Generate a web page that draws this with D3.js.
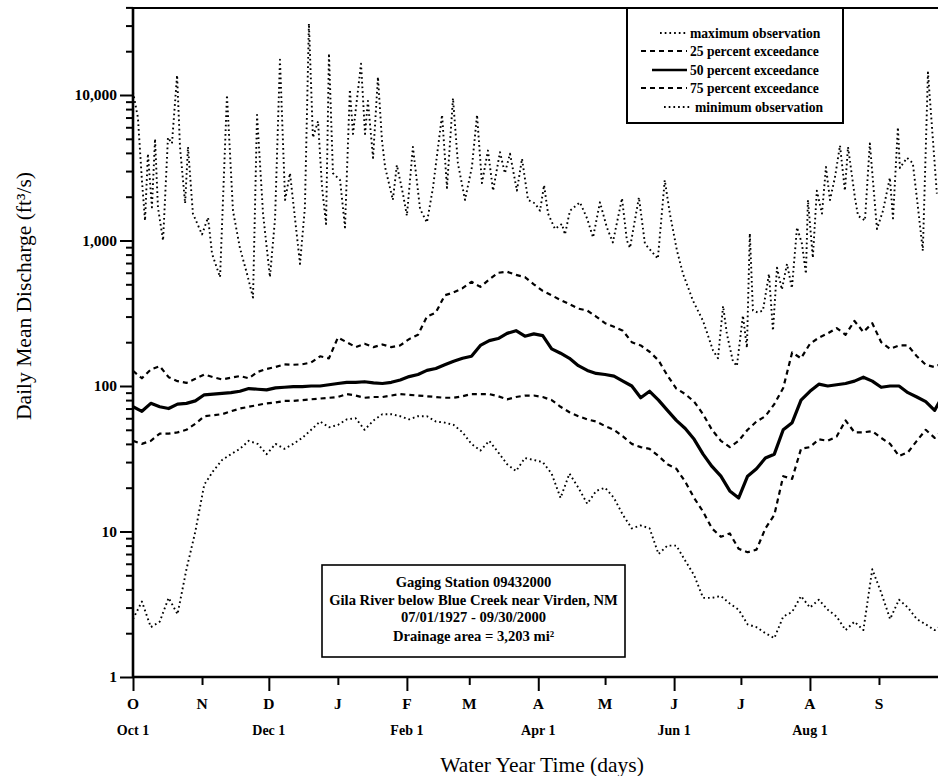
<!DOCTYPE html>
<html><head><meta charset="utf-8">
<script src="https://cdn.jsdelivr.net/npm/d3@7"></script>
<style>
body{margin:0;background:#fff;}
svg{display:block;}
text{font-family:"Liberation Serif","Times New Roman",serif;fill:#000;}
</style></head><body>
<svg id="chart" width="938" height="776"></svg>
<script>
// ---------- data ----------
const monthLetters = ["O","N","D","J","F","M","A","M","J","J","A","S"];
const monthStartDays = [0,31,61,92,123,151,182,212,243,273,304,335];
const majorMonthDays = [0,61,123,182,243,304];
const dateLabels = ["Oct 1","Dec 1","Feb 1","Apr 1","Jun 1","Aug 1"];
const yMajorTicks = [1,10,100,1000,10000];
const gridDays = d3.range(0, 365, 4);

const p25 = [127,113,130,137,115,108,105,112,120,115,
  111,114,117,113,125,131,135,141,140,141,
  145,160,155,215,200,185,195,185,193,185,
  190,210,225,300,320,420,440,470,520,480,
  540,600,610,580,560,500,450,420,390,365,
  340,330,300,270,255,240,200,190,172,150,
  118,96,88,78,64,50,42,38,42,50,
  57,62,75,97,170,155,195,215,230,250,
  225,280,235,270,200,180,190,190,160,140,
  135,145];
const p50 = [72,67,76,72,70,75,76,79,87,88,
  89,90,92,96,95,94,97,98,99,99,
  100,100,102,104,106,106,107,105,104,106,
  110,116,120,128,132,140,148,155,160,190,
  205,212,230,240,220,228,222,180,168,155,
  138,128,122,120,117,108,100,83,92,80,
  68,58,51,43,34,28,24,19,17,24,
  27,32,34,50,56,80,92,103,100,102,
  104,108,115,108,98,100,100,90,84,78,
  68,88];
const p75 = [42,40,42,47,47,48,50,55,62,63,
  64,67,70,72,74,76,77,79,79,80,
  81,82,83,84,88,86,83,84,84,86,
  88,87,86,85,84,83,83,85,88,88,
  88,85,81,84,86,86,84,80,72,66,
  62,59,57,53,50,45,40,38,37,33,
  29,27,22,17,13.7,10.5,9.2,9.7,7.6,7.2,
  7.5,10.5,13,24,23,37,38,43,42,45,
  58,48,48,49,44,40,33,35,42,50,
  44,50];
const minObs = [2.5,3.3,2.2,2.4,3.5,2.7,5.5,10,21,26,
  31,34,37,42,40,34,40,37,40,44,
  50,57,52,54,59,60,50,58,64,64,
  62,59,62,62,57,56,54,48,40,36,
  42,35,29,26,32,31,30,25,17,25,
  20,15.5,19,20,17,13,10.5,11,10.5,7,
  8,8,6.3,5,3.5,3.5,3.6,3.2,2.9,2.3,
  2.2,2.0,1.85,2.6,2.8,3.6,3.0,3.4,2.9,2.6,
  2.1,2.4,2.1,5.5,3.8,2.5,3.4,3.0,2.5,2.3,
  2.1,2.3];
// maximum observation: [day of water year, discharge]
const maxObs = [[0,10500],[2.2,7000],[4,2600],[5.4,1370],[6.7,3950],[8.5,1690],[9.9,5000],[11.2,1690],[13.5,1000],[15.7,5100],
  [17.5,4650],[19.8,13700],[21.1,4400],[23.4,1800],[24.7,4400],[26.9,1530],[31,1100],[33.7,1440],[35.5,810],[39.1,560],
  [42.2,10000],[44.9,1600],[48,890],[51.2,590],[53.9,405],[55.7,7300],[58.4,1530],[61.5,560],[63.8,1420],[66,17500],
  [68.3,1900],[70.5,2900],[72.7,1440],[75,690],[77.2,1690],[79,31000],[80.8,5100],[83.1,6600],[84.9,2300],[86.7,1300],
  [88,19300],[89.8,2900],[93,2600],[95.2,1230],[97.4,10900],[98.8,5400],[102.4,16400],[104.2,5400],[105.5,9100],[107.8,3700],
  [110,13300],[111.8,4900],[113.2,3200],[116.7,1900],[118.5,3300],[121.2,2100],[123,1480],[125.7,4400],[128.9,1650],[132,1330],
  [134.7,2300],[138.8,7300],[141,2300],[143.7,9500],[145.9,3400],[149.1,1900],[152.2,3200],[154.5,7300],[156.7,2480],[159.4,4150],
  [161.7,2200],[164.8,4050],[167,2900],[169.3,3950],[172.4,2200],[174.7,3650],[177.4,1900],[180.5,1800],[182.8,1600],[184.6,2400],
  [186.4,1530],[189.5,1200],[192.6,1300],[194,1100],[196.2,1600],[200.7,1830],[203.9,1420],[206.6,1050],[209.7,1830],[212.8,1230],
  [215.5,970],[219.6,1950],[221.8,1000],[223.2,890],[227.2,1980],[229.9,950],[235.7,750],[238.8,2600],[241.1,1530],[244.3,850],
  [247,590],[251.5,385],[256,280],[260.5,175],[262.7,155],[265,355],[266.7,228],[269.4,148],[271.2,137],[273.9,305],
  [275.7,183],[277,1120],[278.4,330],[280.6,320],[282.9,330],[285.6,590],[287.4,240],[289.2,650],[291.4,460],[293.7,690],
  [295.9,470],[298.2,1230],[300.4,950],[302.2,590],[303.1,1900],[305.3,760],[307.1,2200],[309.4,1530],[311.2,3200],[313,1900],
  [315.2,2700],[317.5,4500],[319.7,2200],[321.1,4400],[324.2,1970],[325.6,1480],[328.7,1370],[330.9,4650],[334.1,1200],[336.8,1600],
  [339.9,2700],[341.3,1420],[343.5,6000],[344.4,3150],[347.6,3700],[350.2,3400],[352.5,1690],[354.7,850],[357,14300],[361,2100]];

const legendItems = [
  {label:"maximum observation", style:"dot"},
  {label:"25 percent exceedance", style:"dash"},
  {label:"50 percent exceedance", style:"solid"},
  {label:"75 percent exceedance", style:"dash"},
  {label:"minimum observation", style:"dot"}
];
const stationLines = ["Gaging Station 09432000","Gila River below Blue Creek near Virden, NM","07/01/1927 - 09/30/2000","Drainage area = 3,203 mi\u00B2"];

// ---------- layout ----------
const svg = d3.select("#chart");
const L = 133, R = 938, T = 8, B = 677;
const x = d3.scaleLinear().domain([0, 366]).range([L, 948]);
const y = d3.scaleLog().domain([1, 40000]).range([B, 7.4]);

const styles = {
  dot:   {w:1.9, dash:"1.7 3"},
  dash:  {w:2.2, dash:"5 4"},
  solid: {w:3.2, dash:null}
};

svg.append("clipPath").attr("id","plotclip").append("rect")
  .attr("x", L).attr("y", T).attr("width", R - L).attr("height", B - T);

const plot = svg.append("g").attr("clip-path","url(#plotclip)");
const line = d3.line().x(d => x(d[0])).y(d => y(d[1]));
const series = [
  {data: maxObs, s: styles.dot},
  {data: gridDays.map((d,i)=>[d,p25[i]]), s: styles.dash},
  {data: gridDays.map((d,i)=>[d,p50[i]]), s: styles.solid},
  {data: gridDays.map((d,i)=>[d,p75[i]]), s: styles.dash},
  {data: gridDays.map((d,i)=>[d,minObs[i]]), s: styles.dot}
];
series.forEach(sr => {
  plot.append("path").datum(sr.data).attr("d", line)
    .attr("fill","none").attr("stroke","#000")
    .attr("stroke-width", sr.s.w)
    .attr("stroke-dasharray", sr.s.dash)
    .attr("stroke-linejoin","round");
});

// ---------- axes ----------
const minorY = [];
[1,10,100,1000,10000].forEach(dec => { for (let k=2;k<=9;k++){ const v=dec*k; if (v<=40000) minorY.push(v);} });

const yMinor = svg.append("g").attr("transform",`translate(${L},0)`)
  .call(d3.axisLeft(y).tickValues(minorY).tickSize(7).tickFormat(""));
const yMajor = svg.append("g").attr("transform",`translate(${L},0)`)
  .call(d3.axisLeft(y).tickValues(yMajorTicks).tickSize(13).tickPadding(3).tickFormat(d3.format(",")));
[yMinor, yMajor].forEach(g => {
  g.select(".domain").remove();
  g.selectAll(".tick line").attr("stroke","#000").attr("stroke-width",2);
});
yMajor.selectAll(".tick text").attr("font-size",15.5).attr("font-weight","bold")
  .attr("font-family",'"Liberation Serif",serif').attr("fill","#000");

const minorMonthDays = monthStartDays.filter(d => !majorMonthDays.includes(d));
const xMinor = svg.append("g").attr("transform",`translate(0,${B})`)
  .call(d3.axisBottom(x).tickValues(minorMonthDays).tickSize(8).tickFormat(""));
const xMajor = svg.append("g").attr("transform",`translate(0,${B})`)
  .call(d3.axisBottom(x).tickValues(majorMonthDays).tickSize(14).tickFormat(""));
[xMinor, xMajor].forEach(g => {
  g.select(".domain").remove();
  g.selectAll(".tick line").attr("stroke","#000").attr("stroke-width",2);
});

// frame lines
svg.append("line").attr("x1",L).attr("x2",L).attr("y1",T-1).attr("y2",B+1).attr("stroke","#000").attr("stroke-width",2.6);
svg.append("line").attr("x1",L).attr("x2",R).attr("y1",B).attr("y2",B).attr("stroke","#000").attr("stroke-width",2.4);
svg.append("line").attr("x1",L).attr("x2",R).attr("y1",T).attr("y2",T).attr("stroke","#000").attr("stroke-width",2.2);

// month letters
svg.append("g").selectAll("text").data(monthStartDays).join("text")
  .attr("x", d => x(d)).attr("y", 709).attr("text-anchor","middle")
  .attr("font-size",15.5).attr("font-weight","bold")
  .text((d,i) => monthLetters[i]);
svg.append("g").selectAll("text").data(majorMonthDays).join("text")
  .attr("x", d => x(d)).attr("y", 735).attr("text-anchor","middle")
  .attr("font-size",14).attr("font-weight","bold")
  .text((d,i) => dateLabels[i]);

// axis titles
svg.append("text").attr("x", 542).attr("y", 772).attr("text-anchor","middle")
  .attr("font-size",21.5).text("Water Year Time (days)");
svg.append("text").attr("transform","translate(31,296) rotate(-90)")
  .attr("text-anchor","middle").attr("font-size",21.5)
  .text("Daily Mean Discharge (ft\u00B3/s)");

// ---------- legend ----------
const lg = svg.append("g");
lg.append("rect").attr("x",627).attr("y",8).attr("width",216).attr("height",115)
  .attr("fill","#fff").attr("stroke","#000").attr("stroke-width",2);
const rowY = [33,51,70,88,107];
const sampleStart = {dot:660, dash:641, solid:652};
legendItems.forEach((it,i) => {
  const s = styles[it.style];
  const x0 = i===4 ? 664 : sampleStart[it.style];
  const x1 = i===4 ? 692 : 687;
  lg.append("line").attr("x1",x0).attr("x2",x1).attr("y1",rowY[i]).attr("y2",rowY[i])
    .attr("stroke","#000").attr("stroke-width", it.style==="solid"?2.6:s.w).attr("stroke-dasharray", s.dash);
  lg.append("text").attr("x", i===4 ? 695 : 690).attr("y", rowY[i]+4.5)
    .attr("font-size",13.6).attr("font-weight","bold").text(it.label);
});

// ---------- station box ----------
const sb = svg.append("g");
sb.append("rect").attr("x",322).attr("y",565).attr("width",303).attr("height",92)
  .attr("fill","#fff").attr("stroke","#000").attr("stroke-width",1.6);
const lineY = [587,605,622,641];
stationLines.forEach((t,i) => {
  sb.append("text").attr("x",473.5).attr("y",lineY[i]).attr("text-anchor","middle")
    .attr("font-size",14.6).attr("font-weight","bold").text(t);
});
</script>
</body></html>
